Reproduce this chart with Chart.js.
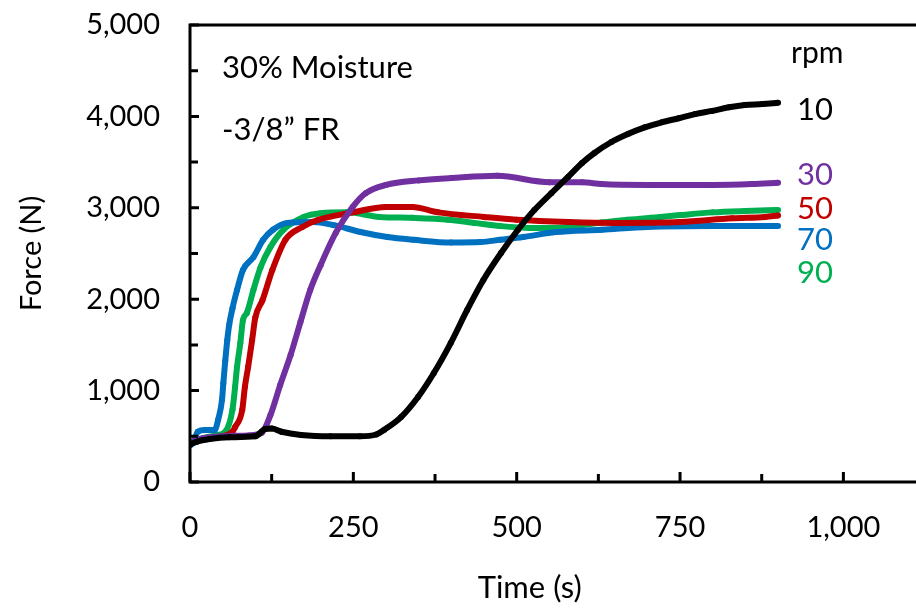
<!DOCTYPE html>
<html>
<head>
<meta charset="utf-8">
<script src="https://cdn.jsdelivr.net/npm/chart.js@4"></script>
<style>
  html, body { margin: 0; padding: 0; background: #fff; overflow: hidden; }
  #wrap { width: 916px; height: 610px; }
</style>
</head>
<body>
<div id="wrap"><canvas id="forceChart" width="916" height="610"></canvas></div>
<script>
/* ================= DATA ================= */

// 10 rpm
const t10 = [0, 10, 30, 60, 100, 115, 125, 140, 170, 215, 260, 285, 297, 323, 349, 373, 399, 424, 449, 476, 502, 527, 553, 579, 600, 619, 645, 671, 696, 722, 748, 773, 799, 825, 849, 876, 900];
const f10 = [410, 440, 470, 490, 500, 580, 585, 550, 515, 500, 500, 520, 570, 710, 930, 1190, 1520, 1880, 2210, 2505, 2760, 2975, 3160, 3340, 3490, 3600, 3720, 3810, 3880, 3935, 3980, 4025, 4060, 4100, 4125, 4135, 4150];

// 30 rpm
const t30 = [0, 20, 50, 90, 110, 123, 138, 154, 169, 184, 200, 223, 249, 269, 300, 350, 400, 470, 550, 600, 630, 700, 800, 860, 900];
const f30 = [430, 480, 500, 510, 540, 730, 1060, 1390, 1750, 2100, 2375, 2725, 3010, 3160, 3250, 3300, 3325, 3350, 3280, 3280, 3260, 3250, 3250, 3260, 3275];

// 50 rpm
const t50 = [0, 20, 40, 65, 69, 80, 84, 89, 95, 100, 111, 126, 146, 172, 197, 249, 300, 340, 380, 450, 500, 580, 650, 750, 830, 880, 900];
const f50 = [420, 470, 490, 550, 600, 790, 1040, 1260, 1550, 1800, 1990, 2320, 2650, 2790, 2870, 2950, 3010, 3010, 2950, 2900, 2870, 2845, 2835, 2845, 2885, 2900, 2915];

// 70 rpm
const t70 = [0, 5, 12, 23, 38, 43, 49, 51, 54, 57, 60, 65, 72, 81, 97, 112, 127, 149, 189, 220, 261, 302, 342, 400, 445, 475, 510, 560, 630, 700, 800, 900];
const f70 = [400, 430, 550, 570, 570, 680, 900, 1080, 1330, 1550, 1720, 1900, 2100, 2320, 2460, 2650, 2760, 2835, 2845, 2810, 2735, 2680, 2650, 2620, 2625, 2650, 2680, 2735, 2760, 2790, 2800, 2800];

// 90 rpm
const t90 = [0, 20, 40, 54, 65, 69, 72, 77, 81, 87, 97, 108, 123, 143, 174, 200, 240, 290, 340, 395, 435, 475, 520, 560, 600, 630, 670, 720, 750, 800, 850, 900];
const f90 = [420, 480, 510, 550, 790, 1040, 1260, 1520, 1770, 1850, 2100, 2350, 2570, 2760, 2900, 2940, 2950, 2900, 2890, 2870, 2835, 2800, 2780, 2780, 2810, 2840, 2870, 2900, 2920, 2950, 2965, 2975];

const rpmLabels = ['10', '30', '50', '70', '90'];
const rpmColors = ['#000000', '#7030A0', '#C00000', '#0070C0', '#00B050'];
const rpmLabelY = [4070, 3360, 2990, 2650, 2290];

const xTicks = [0, 250, 500, 750, 1000];
const xMinor = [125, 375, 625, 875, 1125];
const yTicks = [0, 1000, 2000, 3000, 4000, 5000];
const yMinor = [500, 1500, 2500, 3500, 4500];

const FONT = 'Lato, "Noto Sans", sans-serif';

/* ================= HELPERS ================= */

function toPoints(ts, fs) {
  return ts.map((t, i) => ({ x: t, y: fs[i] }));
}

const seriesT = [t10, t30, t50, t70, t90];
const seriesF = [f10, f30, f50, f70, f90];

const datasets = rpmLabels.map((lbl, i) => ({
  label: lbl + ' rpm',
  data: toPoints(seriesT[i], seriesF[i]),
  borderColor: rpmColors[i],
  backgroundColor: rpmColors[i],
  borderWidth: 6,
  pointRadius: 3,
  pointBorderWidth: 0,
  cubicInterpolationMode: 'monotone',
  fill: false
}));

/* ================= FRAME + NOTES ================= */

const framePlugin = {
  id: 'frame',
  afterDraw(chart) {
    const { ctx, chartArea: a, scales: { x, y } } = chart;
    const W = chart.width;
    ctx.save();
    ctx.strokeStyle = '#000';
    ctx.lineWidth = 3;
    ctx.lineCap = 'square';

    // left, bottom, top
    ctx.beginPath();
    ctx.moveTo(a.left, a.top);
    ctx.lineTo(a.left, a.bottom);
    ctx.lineTo(W + 5, a.bottom);
    ctx.moveTo(a.left, a.top);
    ctx.lineTo(W + 5, a.top);
    ctx.stroke();

    ctx.lineCap = 'butt';
    ctx.beginPath();
    xTicks.forEach(v => {
      const px = x.getPixelForValue(v);
      ctx.moveTo(px, a.bottom);
      ctx.lineTo(px, a.bottom - 10);
    });
    xMinor.forEach(v => {
      const px = x.getPixelForValue(v);
      ctx.moveTo(px, a.bottom);
      ctx.lineTo(px, a.bottom - 8);
    });
    yTicks.forEach(v => {
      const py = y.getPixelForValue(v);
      ctx.moveTo(a.left, py);
      ctx.lineTo(a.left + 9, py);
    });
    yMinor.forEach(v => {
      const py = y.getPixelForValue(v);
      ctx.moveTo(a.left, py);
      ctx.lineTo(a.left + 8, py);
    });
    ctx.stroke();

    // notes
    ctx.textBaseline = 'middle';
    ctx.textAlign = 'left';
    ctx.fillStyle = '#000';
    ctx.font = '31px ' + FONT;
    ctx.fillText('30% Moisture', x.getPixelForValue(49), y.getPixelForValue(4530));
    ctx.fillText('-3/8\u201D FR', x.getPixelForValue(49), y.getPixelForValue(3850));
    ctx.font = '30px ' + FONT;
    ctx.fillText('rpm', x.getPixelForValue(920), y.getPixelForValue(4695));

    ctx.font = '31px ' + FONT;
    rpmLabels.forEach((lbl, i) => {
      ctx.fillStyle = rpmColors[i];
      ctx.fillText(lbl, x.getPixelForValue(929), y.getPixelForValue(rpmLabelY[i]));
    });

    // x axis title
    ctx.fillStyle = '#000';
    ctx.textAlign = 'center';
    ctx.font = '31px ' + FONT;
    ctx.fillText('Time (s)', x.getPixelForValue(520), 588);
    ctx.restore();
  }
};

/* ================= CHART ================= */

new Chart(document.getElementById('forceChart'), {
  type: 'line',
  data: { datasets },
  options: {
    responsive: false,
    animation: false,
    layout: { padding: { top: 25, right: 0, left: 0, bottom: 0 } },
    plugins: {
      legend: { display: false },
      tooltip: { enabled: false }
    },
    scales: {
      x: {
        type: 'linear',
        min: 0,
        max: 1105,
        afterBuildTicks: s => { s.ticks = xTicks.map(v => ({ value: v })); },
        afterFit: s => { s.height = 128; s.paddingLeft = 0; s.paddingRight = 0; },
        grid: { display: false, drawTicks: false },
        border: { display: false },
        ticks: {
          padding: 28,
          color: '#000',
          font: { family: FONT, size: 29 },
          maxRotation: 0,
          callback: v => v.toLocaleString('en-US')
        }
      },
      y: {
        min: 0,
        max: 5000,
        afterBuildTicks: s => { s.ticks = yTicks.map(v => ({ value: v })); },
        afterFit: s => { s.width = 190; s.paddingTop = 0; s.paddingBottom = 0; },
        grid: { display: false, drawTicks: false },
        border: { display: false },
        ticks: {
          padding: 30,
          color: '#000',
          font: { family: FONT, size: 29 },
          callback: v => v.toLocaleString('en-US')
        },
        title: {
          display: true,
          text: 'Force (N)',
          color: '#000',
          font: { family: FONT, size: 29 },
          padding: { top: 14, bottom: 0 }
        }
      }
    }
  },
  plugins: [framePlugin]
});
</script>
</body>
</html>
